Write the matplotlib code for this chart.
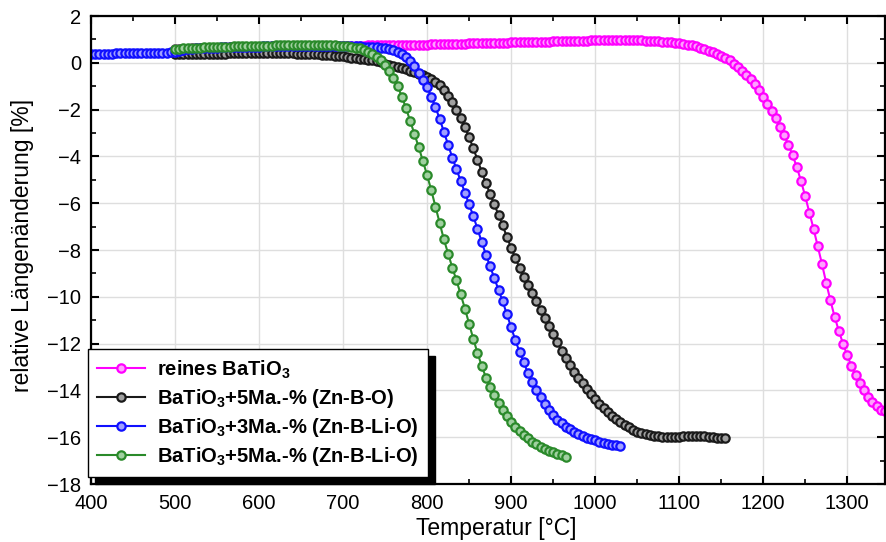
import numpy as np
import matplotlib
matplotlib.use('Agg')
import matplotlib.pyplot as plt
from matplotlib.patches import Rectangle
from matplotlib.ticker import MultipleLocator

plt.rcParams['font.family'] = ['Liberation Sans', 'DejaVu Sans']
plt.rcParams['mathtext.fontset'] = 'custom'
plt.rcParams['mathtext.rm'] = 'Liberation Sans'
plt.rcParams['mathtext.bf'] = 'Liberation Sans:bold'

T_blue = np.arange(400, 1031, 5)
T_black = np.arange(500, 1156, 5)
T_green = np.arange(500, 966, 5)
T_mag = np.arange(500, 1346, 5)

dl_blue = [
    .38, .38, .38, .39, .39, .39, .40, .40, .40, .41, .41, .41, .42, .42, .42, .43, .43, .44, .44, .45, .45,
    .52, .56, .59, .61, .62, .63, .64, .64, .65, .65, .66, .66, .67, .67, .68, .68, .68, .69, .69, .69,
    .70, .70, .70, .70, .71, .71, .71, .71, .71, .72, .72, .72, .72, .72, .72, .72, .72, .71, .71, .71,
    .71, .70, .70, .70, .69, .69, .68, .67, .65, .63, .60, .55, .48, .38, .24, .08, -.15, -.45, -.72, -1.05,
    -1.45, -1.90, -2.40, -2.95, -3.50, -4.05, -4.55, -5.05, -5.55, -6.05, -6.55, -7.10, -7.65, -8.20, -8.70,
    -9.20, -9.70, -10.20, -10.75, -11.30, -11.85, -12.35, -12.80, -13.25, -13.65, -14.00, -14.30, -14.60,
    -14.85, -15.05, -15.25, -15.40, -15.55, -15.67, -15.78, -15.87, -15.95, -16.02, -16.08, -16.14, -16.19,
    -16.24, -16.28, -16.32, -16.35, -16.37]

dl_black = [
    .38, .38, .38, .38, .38, .38, .38, .39, .39, .39, .39, .39, .39, .40, .40, .40, .40, .40, .40, .40, .40,
    .40, .40, .40, .40, .40, .40, .40, .40, .39, .39, .38, .38, .37, .36, .35, .34, .32, .31, .30, .28,
    .25, .22, .20, .18, .16, .13, .10, .06, .02, -.03, -.08, -.13, -.18, -.23, -.28, -.34, -.40, -.46, -.52, -.60,
    -.68, -.80, -.95, -1.15, -1.40, -1.68, -2.00, -2.35, -2.75, -3.18, -3.65, -4.15, -4.65, -5.15, -5.60,
    -6.05, -6.50, -6.95, -7.45, -7.90,
    -8.35, -8.75, -9.15, -9.50, -9.85, -10.20, -10.55, -10.90, -11.25, -11.60, -11.95, -12.30, -12.60,
    -12.90, -13.20, -13.45, -13.70, -13.95, -14.17, -14.38,
    -14.58, -14.76, -14.93, -15.08, -15.22, -15.35, -15.47, -15.58, -15.68, -15.76, -15.83, -15.88, -15.92,
    -15.95, -15.97, -15.98, -15.99, -15.99, -15.99, -15.98,
    -15.97, -15.96, -15.95, -15.95, -15.95, -15.96, -15.98, -16.00, -16.02, -16.04, -16.05]

dl_green = [
    .60, .61, .62, .63, .64, .65, .65, .66, .67, .67, .68, .68, .69, .69, .70, .70, .71, .71, .72, .72, .72,
    .73, .73, .73, .74, .74, .74, .75, .75, .75, .75, .76, .76, .76, .76, .76, .75, .75, .74, .73, .72,
    .70, .67, .65, .62, .56, .48, .38, .26, .10, -.10, -.35, -.65, -1.00, -1.45, -1.95, -2.50, -3.05, -3.60,
    -4.20, -4.80, -5.45, -6.15, -6.85, -7.55, -8.15, -8.75, -9.30, -9.90, -10.50, -11.15, -11.80, -12.40,
    -12.95, -13.45, -13.85, -14.20, -14.55, -14.85, -15.10, -15.35, -15.55, -15.75, -15.90, -16.05, -16.20,
    -16.30, -16.40, -16.50, -16.58, -16.65, -16.72, -16.78, -16.85]

dl_mag = [
    .58, .59, .60, .61, .62, .62, .63, .63, .64, .64, .65, .65, .66, .66, .67, .67, .67, .68, .68, .68, .69,
    .69, .69, .70, .70, .70, .70, .71, .71, .71, .71, .71, .72, .72, .72, .72, .72, .72, .72, .72, .72,
    .72, .72, .73, .73, .73, .74, .74, .74, .75, .75, .75, .76, .76, .76, .77, .77, .77, .78, .78, .78,
    .79, .79, .79, .80, .80, .81, .81, .82, .82, .83, .83, .84, .84, .85, .85, .85, .86, .86, .86, .87,
    .87, .88, .88, .89, .89, .90, .90, .91, .91, .92, .92, .93, .93, .94, .94, .95, .95, .95, .96, .96,
    .96, .97, .97, .97, .97, .97, .97, .97, .97, .96, .96, .95, .94, .93, .92, .91, .90, .88, .86, .84,
    .81, .78, .74, .70, .65, .59, .52, .45, .38, .30, .21, .10, -.03, -.18, -.34, -.52, -.71, -.92, -1.17,
    -1.45, -1.74, -2.05, -2.38, -2.75, -3.10, -3.50, -3.95, -4.45, -5.05, -5.70, -6.40, -7.10, -7.85, -8.60,
    -9.40, -10.15, -10.85, -11.45, -12.00, -12.50, -12.95, -13.35, -13.70, -14.00, -14.28, -14.50, -14.68,
    -14.82, -14.90]

labels = ['reines BaTiO$_\\mathbf{3}$',
          'BaTiO$_\\mathbf{3}$+5Ma.-% (Zn-B-O)',
          'BaTiO$_\\mathbf{3}$+3Ma.-% (Zn-B-Li-O)',
          'BaTiO$_\\mathbf{3}$+5Ma.-% (Zn-B-Li-O)']

fig = plt.figure(figsize=(8.87, 5.42), dpi=100)
ax = fig.add_axes([91/887, 58/542, 794/887, 468/542])

series = [
    (T_mag, dl_mag, '#ff00ff', '#ffa0ff'),
    (T_black, dl_black, '#1a1a1a', '#a0a0a0'),
    (T_blue, dl_blue, '#1010ff', '#a0a0ff'),
    (T_green, dl_green, '#2a8a2a', '#a0d0a0'),
]
for (t, d, c, fc), lab in zip(series, labels):
    ax.plot(t, d, '-o', color=c, lw=1.5, ms=6, mew=1.6, mec=c, mfc=fc, label=lab)

ax.set_xlim(400, 1345)
ax.set_ylim(-18, 2)
ax.xaxis.set_major_locator(MultipleLocator(100))
ax.xaxis.set_minor_locator(MultipleLocator(50))
ax.yaxis.set_major_locator(MultipleLocator(2))
ax.yaxis.set_minor_locator(MultipleLocator(1))
ax.grid(True, which='major', color='#dedede', lw=1)
ax.set_axisbelow(True)
for s in ax.spines.values():
    s.set_linewidth(1.6)
ax.tick_params(which='both', direction='in', top=True, right=True, labelsize=14.5)
ax.tick_params(which='major', length=6, width=1.5, pad=7)
ax.tick_params(which='minor', length=3.5, width=1.2)

ax.set_xlabel('Temperatur [°C]', fontsize=16.5)
ax.set_ylabel('relative Längenänderung [%]', fontsize=16.5)
ax.xaxis.set_label_coords(0.511, -0.07)
ax.yaxis.set_label_coords(-0.072, 0.51)

leg = ax.legend(loc='lower left', bbox_to_anchor=(-0.004, 0.015), borderaxespad=0,
                prop={'weight': 'bold', 'size': 14.5}, fancybox=False, framealpha=1,
                edgecolor='black', handlelength=2.4, labelspacing=0.3, borderpad=0.45,
                handletextpad=0.6)
leg.get_frame().set_linewidth(1.0)
leg.set_zorder(6)

# dicker schwarzer Schatten rechts unten
fig.canvas.draw()
bb = leg.get_window_extent().transformed(ax.transAxes.inverted())
dx, dy = 7 / 794, 7 / 468
ax.add_patch(Rectangle((bb.x0 + dx, bb.y0 - dy), bb.width, bb.height, transform=ax.transAxes,
                       color='black', zorder=5.5, clip_on=False))

fig.savefig('out.png', dpi=100)
